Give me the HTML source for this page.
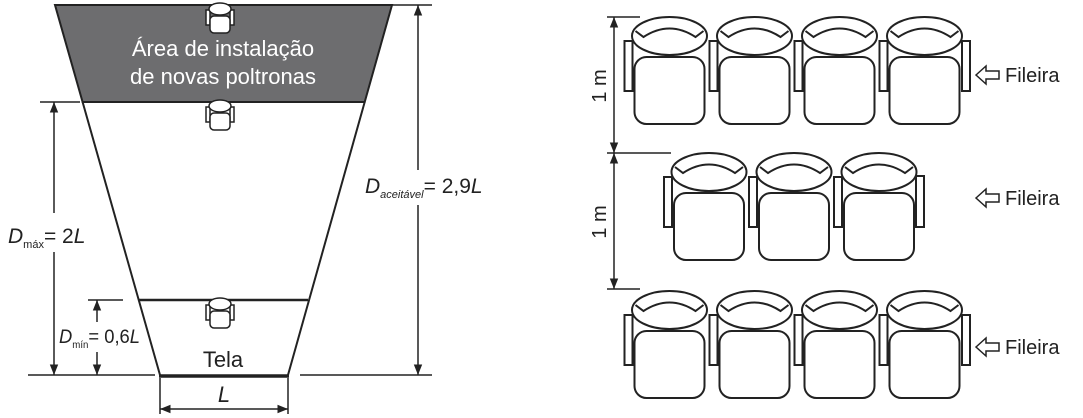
<!DOCTYPE html>
<html><head><meta charset="utf-8"><style>
html,body{margin:0;padding:0;background:#fff;}
svg{display:block;font-family:"Liberation Sans",sans-serif;}
</style></head><body>
<svg width="1083" height="418" viewBox="0 0 1083 418">
<defs>
<g id="seat" stroke="#222" stroke-width="2" fill="#fff">
<rect x="-45" y="5" width="8" height="50"/>
<ellipse cx="0" cy="0" rx="37.5" ry="19"/>
<path d="M-34,-5 L-26,1 Q0,-16 26,1 L34,-5" fill="none"/>
<rect x="-35" y="21" width="70" height="67" rx="12"/>
</g>
<g id="mini" stroke="#222" stroke-width="1.5" fill="#fff">
<rect x="-14" y="-4" width="4" height="15"/><rect x="10" y="-4" width="4" height="15"/>
<ellipse cx="0" cy="-5" rx="11" ry="6"/>
<rect x="-10" y="2" width="20" height="17" rx="4"/>
</g>
<marker id="ah" viewBox="0 0 10 10" refX="10" refY="5" markerWidth="7" markerHeight="7" orient="auto-start-reverse"><path d="M0,1 L10,5 L0,9 z" fill="#222"/></marker>
</defs>

<g>
<polygon points="55,5 392,5 364.7,102 82.6,102" fill="#6d6d6f" stroke="#222" stroke-width="2"/>
<line x1="82.6" y1="102" x2="160" y2="375" stroke="#222" stroke-width="2"/>
<line x1="364.7" y1="102" x2="288" y2="375" stroke="#222" stroke-width="2"/>
<line x1="138" y1="300" x2="308" y2="300" stroke="#222" stroke-width="2.5"/>
<line x1="159" y1="376" x2="289" y2="376" stroke="#222" stroke-width="3.5"/>
</g>
<use href="#mini" x="220" y="14"/>
<use href="#mini" x="220" y="111"/>
<use href="#mini" x="220" y="309"/>
<text x="223" y="56" font-size="22" fill="#fff" text-anchor="middle">Área de instalação</text>
<text x="223" y="84" font-size="22" fill="#fff" text-anchor="middle">de novas poltronas</text>
<text x="223" y="367" font-size="22" fill="#222" text-anchor="middle">Tela</text>

<g stroke="#222" stroke-width="1.5">
<line x1="28" y1="375" x2="155" y2="375"/>
<line x1="300" y1="375" x2="432" y2="375"/>
<line x1="40" y1="102" x2="80" y2="102"/>
<line x1="88" y1="300" x2="123" y2="300"/>
<line x1="392" y1="5" x2="432" y2="5"/>
<line x1="54" y1="102" x2="54" y2="213" marker-start="url(#ah)"/>
<line x1="54" y1="252" x2="54" y2="375" marker-end="url(#ah)"/>
<line x1="97" y1="300" x2="97" y2="322" marker-start="url(#ah)"/>
<line x1="97" y1="352" x2="97" y2="375" marker-end="url(#ah)"/>
<line x1="418" y1="5" x2="418" y2="170" marker-start="url(#ah)"/>
<line x1="418" y1="205" x2="418" y2="375" marker-end="url(#ah)"/>
<line x1="160" y1="378" x2="160" y2="414"/>
<line x1="288" y1="378" x2="288" y2="414"/>
<line x1="160" y1="409" x2="288" y2="409" marker-start="url(#ah)" marker-end="url(#ah)"/>
</g>
<text x="8" y="243" font-size="21" fill="#222"><tspan font-style="italic">D</tspan><tspan font-size="11" dy="5">máx</tspan><tspan dy="-5">= 2</tspan><tspan font-style="italic">L</tspan></text>
<text x="59" y="343" font-size="19" fill="#222" textLength="81" lengthAdjust="spacingAndGlyphs"><tspan font-style="italic">D</tspan><tspan font-size="10" dy="5">mín</tspan><tspan dy="-5">= 0,6</tspan><tspan font-style="italic">L</tspan></text>
<text x="365" y="193" font-size="21" fill="#222"><tspan font-style="italic">D</tspan><tspan font-size="11" font-style="italic" dy="5">aceitável</tspan><tspan dy="-5">= 2,9</tspan><tspan font-style="italic">L</tspan></text>
<text x="224" y="402" font-size="22" font-style="italic" fill="#222" text-anchor="middle">L</text>

<g>
<use href="#seat" x="669.5" y="36"/><use href="#seat" x="754.5" y="36"/><use href="#seat" x="839.5" y="36"/><use href="#seat" x="924.5" y="36"/>
<rect x="962" y="41" width="8" height="50" fill="#fff" stroke="#222" stroke-width="2"/>
</g>
<g>
<use href="#seat" x="709" y="172"/><use href="#seat" x="794" y="172"/><use href="#seat" x="879" y="172"/>
<rect x="916" y="176" width="8" height="51" fill="#fff" stroke="#222" stroke-width="2"/>
</g>
<g>
<use href="#seat" x="669.5" y="310"/><use href="#seat" x="754.5" y="310"/><use href="#seat" x="839.5" y="310"/><use href="#seat" x="924.5" y="310"/>
<rect x="962" y="315" width="8" height="50" fill="#fff" stroke="#222" stroke-width="2"/>
</g>
<g stroke="#222" stroke-width="1.5">
<line x1="607" y1="17" x2="640" y2="17"/>
<line x1="607" y1="153" x2="671" y2="153"/>
<line x1="607" y1="289" x2="640" y2="289"/>
<line x1="614" y1="17" x2="614" y2="153" marker-start="url(#ah)" marker-end="url(#ah)"/>
<line x1="614" y1="153" x2="614" y2="289" marker-start="url(#ah)" marker-end="url(#ah)"/>
</g>
<rect x="586" y="65" width="22" height="45" fill="#fff"/>
<rect x="586" y="200" width="22" height="45" fill="#fff"/>
<text transform="translate(606,86) rotate(-90)" font-size="20" fill="#222" text-anchor="middle">1 m</text>
<text transform="translate(606,222) rotate(-90)" font-size="20" fill="#222" text-anchor="middle">1 m</text>

<g fill="#fff" stroke="#222" stroke-width="1.5">
<path d="M976,75 L986,66 L986,71 L999,71 L999,79 L986,79 L986,84 Z"/>
<path d="M976,198 L986,189 L986,194 L999,194 L999,202 L986,202 L986,207 Z"/>
<path d="M976,347 L986,338 L986,343 L999,343 L999,351 L986,351 L986,356 Z"/>
</g>
<text x="1005" y="82" font-size="20" fill="#222">Fileira</text>
<text x="1005" y="205" font-size="20" fill="#222">Fileira</text>
<text x="1005" y="354" font-size="20" fill="#222">Fileira</text>
</svg>
</body></html>
